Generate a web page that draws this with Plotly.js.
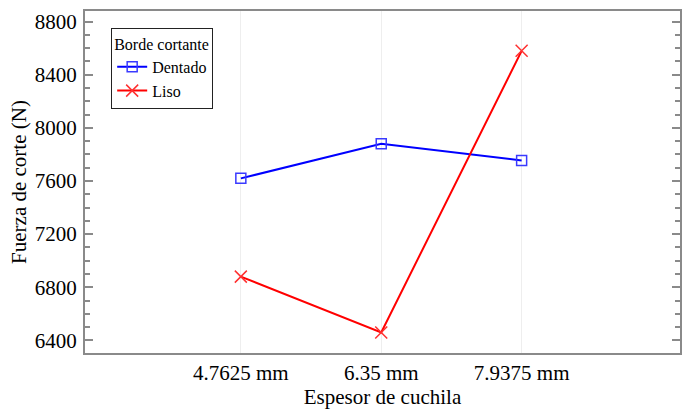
<!DOCTYPE html>
<html>
<head>
<meta charset="utf-8">
<script src="https://cdn.plot.ly/plotly-3.0.1.min.js"></script>
<style>
html,body{margin:0;padding:0;background:#fff;}
#chart{width:688px;height:410px;}
#tick{position:absolute;left:0;top:0;width:1px;height:1px;overflow:hidden;color:#fff;font-size:1px;margin:0;}
</style>
</head>
<body>
<div id="chart"></div>
<pre id="tick"></pre>
<script>
var categories = ["4.7625 mm", "6.35 mm", "7.9375 mm"];
var dentado = [7620, 7880, 7755];
var liso = [6880, 6460, 8580];
var yTicks = [6400, 6800, 7200, 7600, 8000, 8400, 8800];

var font = "Liberation Serif";
var frame = "#8a8a8a";

var traces = [
  {x: categories, y: dentado, name: "Dentado", type: "scatter", mode: "lines+markers",
   line: {color: "#0000ff", width: 2},
   marker: {symbol: "square-open", size: 10, color: "#3a3aff", line: {width: 1.5}}},
  {x: categories, y: liso, name: "Liso", type: "scatter", mode: "lines+markers",
   line: {color: "#ff0000", width: 2},
   marker: {symbol: "x-thin-open", size: 12, color: "#ff3030", line: {width: 1.5, color: "#ff3030"}}}
];

var layout = {
  width: 688, height: 410,
  margin: {l: 85, r: 8, t: 11, b: 57},
  font: {family: font, size: 21, color: "#000"},
  showlegend: true,
  legend: {
    x: 0.044, y: 0.95, xanchor: "left", yanchor: "top",
    bgcolor: "#fff", bordercolor: "#222", borderwidth: 1,
    font: {family: font, size: 16, color: "#000"},
    title: {text: "Borde cortante", font: {family: font, size: 16, color: "#000"}},
    tracegroupgap: 0, itemwidth: 30
  },
  xaxis: {
    type: "category",
    range: [-1.11, 3.128],
    showline: true, linecolor: frame, linewidth: 2, mirror: true,
    ticks: "", tickfont: {family: font, size: 21, color: "#000"},
    title: {text: "Espesor de cuchila", font: {family: font, size: 21, color: "#000"}, standoff: 4}
  },
  yaxis: {
    range: [6305, 8880],
    tickvals: yTicks,
    showgrid: false, zeroline: false,
    showline: true, linecolor: frame, linewidth: 2, mirror: "ticks",
    ticks: "inside", ticklen: 8, tickwidth: 2, tickcolor: frame,
    minor: {dtick: 100, tick0: 6400, ticks: "inside", ticklen: 5, tickwidth: 2, tickcolor: frame},
    tickfont: {family: font, size: 21, color: "#000"},
    ticklabelstandoff: 2,
    title: {text: "Fuerza de corte (N)", font: {family: font, size: 21, color: "#000"}, standoff: 2}
  }
};

function touch() {
  var out = [];
  document.querySelectorAll("#chart text").forEach(function(t){
    out.push(getComputedStyle(t).fontFamily);
  });
  document.getElementById("tick").textContent = out.join(" ");
}

Plotly.newPlot("chart", traces, layout, {displayModeBar: false, staticPlot: true}).then(function(){
  touch();
  var ready = (document.fonts && document.fonts.ready) ? document.fonts.ready : Promise.resolve();
  return ready.then(function(){
    return Plotly.react("chart", traces, layout, {displayModeBar: false, staticPlot: true});
  }).then(touch);
});
</script>
</body>
</html>
